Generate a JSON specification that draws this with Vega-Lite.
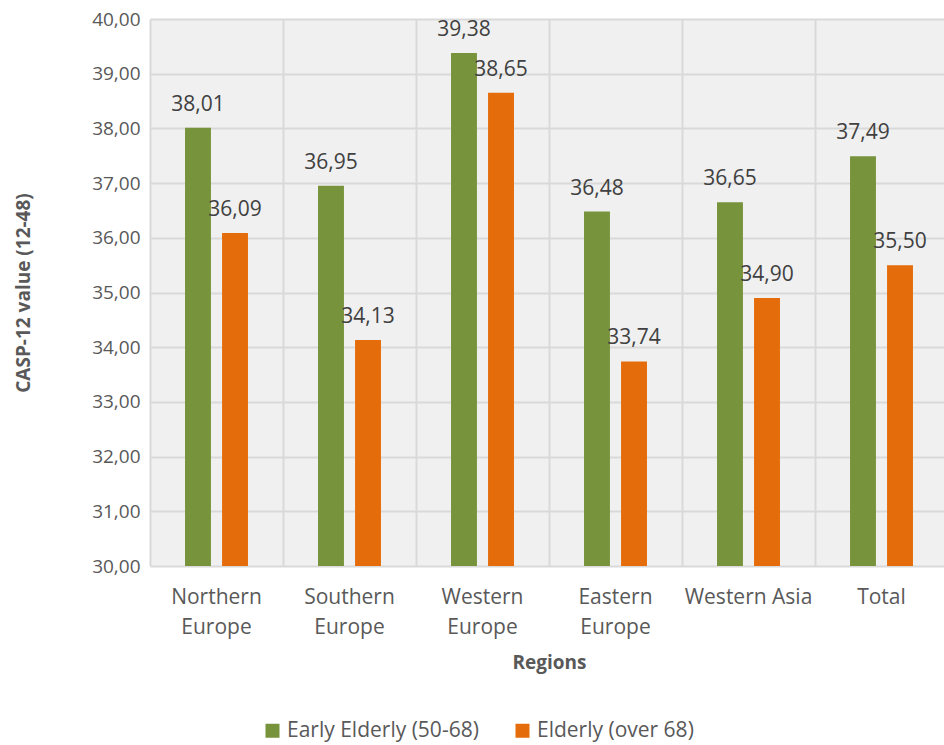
{
  "$schema": "https://vega.github.io/schema/vega-lite/v6.json",
  "width": 798,
  "height": 547,
  "autosize": {"type": "none"},
  "padding": {"left": 150, "top": 19, "right": 0, "bottom": 179},
  "background": "white",
  "config": {
    "locale": {"number": {"decimal": ",", "thousands": ".", "grouping": [3], "currency": ["", " €"]}},
    "font": "Open Sans",
    "view": {"stroke": null, "fill": "#f0f0f0"}
  },
  "data": {
    "values": [
      {"region": "Northern Europe", "group": "Early Elderly (50-68)", "value": 38.01},
      {"region": "Northern Europe", "group": "Elderly (over 68)", "value": 36.09},
      {"region": "Southern Europe", "group": "Early Elderly (50-68)", "value": 36.95},
      {"region": "Southern Europe", "group": "Elderly (over 68)", "value": 34.13},
      {"region": "Western Europe", "group": "Early Elderly (50-68)", "value": 39.38},
      {"region": "Western Europe", "group": "Elderly (over 68)", "value": 38.65},
      {"region": "Eastern Europe", "group": "Early Elderly (50-68)", "value": 36.48},
      {"region": "Eastern Europe", "group": "Elderly (over 68)", "value": 33.74},
      {"region": "Western Asia", "group": "Early Elderly (50-68)", "value": 36.65},
      {"region": "Western Asia", "group": "Elderly (over 68)", "value": 34.90},
      {"region": "Total", "group": "Early Elderly (50-68)", "value": 37.49},
      {"region": "Total", "group": "Elderly (over 68)", "value": 35.50}
    ]
  },
  "layer": [
    {
      "mark": {"type": "bar"},
      "encoding": {
        "x": {
          "field": "region",
          "type": "nominal",
          "sort": ["Northern Europe", "Southern Europe", "Western Europe", "Eastern Europe", "Western Asia", "Total"],
          "scale": {"paddingInner": 0, "paddingOuter": 0},
          "axis": {
            "orient": "bottom",
            "title": "Regions",
            "titleFont": "Open Sans",
            "titleFontSize": 19,
            "titleFontWeight": "bold",
            "titleColor": "#595959",
            "titlePadding": 16,
            "labelAngle": 0,
            "labelFont": "Open Sans",
            "labelFontSize": 21,
            "labelColor": "#595959",
            "labelPadding": 20,
            "labelLineHeight": 30,
            "labelExpr": "datum.value == 'Western Asia' ? datum.value : split(datum.value, ' ')",
            "domain": false,
            "ticks": false,
            "grid": false
          }
        },
        "xOffset": {
          "field": "group",
          "type": "nominal",
          "sort": ["Early Elderly (50-68)", "Elderly (over 68)"],
          "scale": {"paddingInner": 0.3, "paddingOuter": 0.946}
        },
        "y": {
          "field": "value",
          "type": "quantitative",
          "scale": {"domain": [30, 40], "nice": false, "zero": false},
          "axis": {
            "values": [30, 31, 32, 33, 34, 35, 36, 37, 38, 39, 40],
            "format": ".2f",
            "title": "CASP-12 value (12-48)",
            "titleFont": "Open Sans",
            "titleFontSize": 19,
            "titleFontWeight": "bold",
            "titleColor": "#595959",
            "titlePadding": 58,
            "labelFont": "Open Sans",
            "labelFontSize": 19,
            "labelColor": "#595959",
            "labelPadding": 10,
            "domain": false,
            "ticks": false,
            "grid": true,
            "gridColor": "#d9d9d9",
            "gridWidth": 2
          }
        },
        "y2": {"datum": 30},
        "color": {
          "field": "group",
          "type": "nominal",
          "sort": ["Early Elderly (50-68)", "Elderly (over 68)"],
          "scale": {"domain": ["Early Elderly (50-68)", "Elderly (over 68)"], "range": ["#77933C", "#E46C0A"]},
          "legend": {
            "orient": "none",
            "legendX": 112,
            "legendY": 701,
            "direction": "horizontal",
            "title": null,
            "symbolType": "square",
            "symbolSize": 196,
            "symbolStrokeWidth": 0,
            "labelFont": "Open Sans",
            "labelFontSize": 21,
            "labelColor": "#595959",
            "labelOffset": 4,
            "labelLimit": 400,
            "columnPadding": 33
          }
        }
      }
    },
    {
      "mark": {"type": "text", "baseline": "alphabetic", "dy": -17, "fontSize": 21, "font": "Open Sans", "color": "#404040"},
      "encoding": {
        "x": {
          "field": "region",
          "type": "nominal",
          "sort": ["Northern Europe", "Southern Europe", "Western Europe", "Eastern Europe", "Western Asia", "Total"],
          "scale": {"paddingInner": 0, "paddingOuter": 0},
          "axis": {
            "orient": "top",
            "title": null,
            "bandPosition": 0,
            "labels": false,
            "ticks": false,
            "domain": false,
            "grid": true,
            "gridColor": "#d9d9d9",
            "gridWidth": 2
          }
        },
        "xOffset": {
          "field": "group",
          "type": "nominal",
          "sort": ["Early Elderly (50-68)", "Elderly (over 68)"],
          "scale": {"paddingInner": 0.3, "paddingOuter": 0.946}
        },
        "y": {"field": "value", "type": "quantitative"},
        "text": {"field": "value", "type": "quantitative", "format": ".2f"}
      }
    }
  ],
  "resolve": {"axis": {"x": "independent"}}
}
